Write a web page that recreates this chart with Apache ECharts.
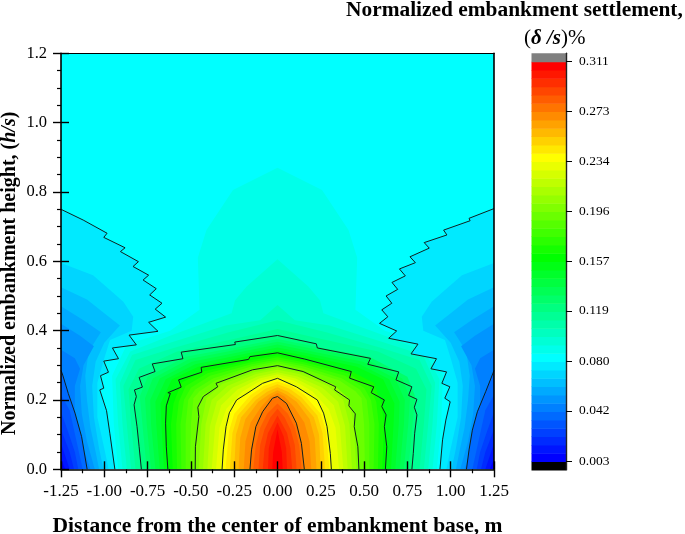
<!DOCTYPE html>
<html><head><meta charset="utf-8">
<style>html,body{margin:0;padding:0;background:#fff}#c{width:685px;height:534px}</style>
<script src="https://cdn.jsdelivr.net/npm/echarts@6/dist/echarts.min.js"></script>
</head><body><div id="c"></div>
<script>
// Colour scale
const legendTicks=[0.003,0.042,0.080,0.119,0.157,0.196,0.234,0.273,0.311];
const legendMin=0.003, legendMax=0.311, legendSegments=48;

// Black contour lines, [x, h/s]
const c042L=[[-1.25,.285],[-1.242,.275],[-1.208,.219],[-1.169,.162],[-1.131,.094],[-1.099,0]];
const c042R=[[1.25,.285],[1.24,.272],[1.202,.224],[1.154,.166],[1.125,.113],[1.106,.056],[1.091,0]];
const c080L=[[-1.25,.75],[-1.122,.719],[-1.116,.716],[-.984,.681],[-1.003,.669],[-.88,.639],[-.907,.628],[-.803,.599],[-.834,.585],[-.744,.56],[-.776,.546],[-.7,.521],[-.738,.503],[-.667,.479],[-.706,.462],[-.646,.439],[-.744,.424],[-.69,.398],[-.857,.387],[-.815,.359],[-.953,.35],[-.918,.319],[-1.003,.312],[-.976,.28],[-1.022,.27],[-1.003,.234],[-1.026,.229],[-.987,.169],[-.968,.104],[-.939,0]];
const c080R=[[1.25,.752],[1.106,.724],[1.112,.717],[.959,.69],[.978,.676],[.847,.654],[.876,.638],[.765,.613],[.796,.596],[.704,.578],[.738,.558],[.661,.539],[.694,.519],[.627,.5],[.66,.479],[.602,.46],[.637,.44],[.589,.421],[.688,.399],[.642,.378],[.811,.361],[.771,.333],[.918,.319],[.886,.29],[.976,.281],[.949,.248],[.995,.238],[.966,.205],[.997,.195],[.972,.142],[.953,.085],[.938,0]];
const c119=[[-.786,0],[-.799,.065],[-.811,.123],[-.828,.186],[-.815,.21],[-.826,.229],[-.78,.237],[-.799,.265],[-.707,.282],[-.723,.304],[-.546,.319],[-.556,.338],[-.243,.36],[-.247,.367],[0,.386],[.224,.362],[.23,.35],[.537,.32],[.521,.303],[.7,.281],[.684,.258],[.776,.238],[.757,.213],[.805,.202],[.79,.179],[.805,.157],[.792,.104],[.784,.046],[.776,0]];
const c157=[[-.633,0],[-.642,.065],[-.646,.133],[-.642,.183],[-.619,.219],[-.633,.221],[-.556,.237],[-.571,.258],[-.437,.28],[-.441,.294],[-.167,.317],[-.159,.325],[0,.336],[.157,.318],[.161,.313],[.426,.282],[.416,.263],[.556,.238],[.541,.221],[.617,.2],[.602,.181],[.627,.157],[.617,.123],[.631,.065],[.623,0]];
const c196=[[-.475,0],[-.474,.065],[-.454,.152],[-.46,.179],[-.428,.21],[-.439,.213],[-.345,.238],[-.355,.248],[-.144,.287],[0,.299],[.148,.282],[.153,.277],[.336,.238],[.33,.229],[.416,.2],[.412,.183],[.449,.16],[.443,.123],[.464,.065],[.47,0]];
const c234=[[-.32,0],[-.313,.056],[-.297,.123],[-.278,.163],[-.236,.2],[-.182,.217],[-.086,.248],[0,.2625],[.109,.238],[.23,.2],[.266,.162],[.286,.123],[.305,.046],[.311,0]];
const c273=[[-.159,0],[-.15,.056],[-.125,.123],[-.086,.166],[-.029,.205],[0,.21],[.052,.19],[.109,.133],[.138,.075],[.155,0]];

// Edges of the colour bands above the cyan plateau (left half, symmetric), by band number
const arch13=[[-.92,0],[-.945,.13],[-.955,.27],[-.87,.36],[-.62,.4],[-.45,.46],[-.46,.61],[-.41,.69],[-.257,.806],[0,.87]];
const arch14=[[-.895,0],[-.92,.13],[-.935,.26],[-.85,.34],[-.62,.385],[-.43,.42],[-.265,.45],[-.245,.488],[-.178,.527],[0,.606]];
const arch15=[[-.87,0],[-.895,.13],[-.91,.25],[-.84,.33],[-.62,.365],[-.3,.415],[-.1,.43],[0,.474]];
const arch16=[[-.845,0],[-.87,.13],[-.89,.24],[-.82,.315],[-.6,.35],[-.28,.395],[0,.43]];
const arch17=[[-.82,0],[-.845,.13],[-.86,.23],[-.8,.29],[-.58,.34],[-.26,.375],[0,.405]];
const arch19=[[-.755,0],[-.78,.13],[-.795,.21],[-.75,.267],[-.53,.325],[-.227,.353],[0,.376]];
const arch20=[[-.73,0],[-.755,.13],[-.765,.205],[-.72,.262],[-.51,.318],[-.213,.347],[0,.368]];
const arch21=[[-.705,0],[-.73,.13],[-.735,.2],[-.68,.262],[-.495,.31],[-.2,.34],[0,.36]];
const arch22=[[-.68,0],[-.7,.13],[-.705,.195],[-.645,.26],[-.475,.303],[-.187,.333],[0,.351]];
const arch23=[[-.655,0],[-.67,.13],[-.675,.19],[-.61,.26],[-.458,.296],[-.173,.327],[0,.343]];
const arch25=[[-.605,0],[-.615,.13],[-.6,.19],[-.555,.25],[-.425,.283],[-.157,.314],[0,.329]];
const arch26=[[-.58,0],[-.585,.13],[-.57,.195],[-.53,.24],[-.405,.277],[-.153,.309],[0,.323]];
const arch27=[[-.555,0],[-.56,.13],[-.54,.2],[-.5,.235],[-.39,.27],[-.15,.303],[0,.317]];
const arch28=[[-.53,0],[-.53,.13],[-.515,.2],[-.475,.23],[-.37,.263],[-.147,.297],[0,.312]];
const arch29=[[-.505,0],[-.5,.13],[-.485,.205],[-.45,.225],[-.355,.257],[-.143,.291],[0,.306]];
const arch31=[[-.455,0],[-.44,.13],[-.41,.205],[-.32,.246],[-.133,.28],[0,.293]];
const arch32=[[-.43,0],[-.415,.13],[-.38,.2],[-.29,.24],[-.125,.275],[0,.287]];
const arch33=[[-.405,0],[-.39,.125],[-.35,.195],[-.26,.235],[-.115,.268],[0,.28]];
const arch34=[[-.38,0],[-.36,.125],[-.325,.185],[-.23,.23],[-.105,.262],[0,.274]];
const arch35=[[-.355,0],[-.335,.12],[-.295,.175],[-.2,.225],[-.095,.256],[0,.267]];
const arch37=[[-.3,0],[-.28,.11],[-.25,.16],[-.155,.214],[-.08,.24],[0,.253]];
const arch38=[[-.275,0],[-.26,.105],[-.23,.155],[-.14,.207],[-.07,.232],[0,.245]];
const arch39=[[-.25,0],[-.24,.1],[-.21,.15],[-.125,.2],[-.06,.224],[0,.237]];
const arch40=[[-.225,0],[-.215,.09],[-.185,.145],[-.11,.195],[-.05,.216],[0,.228]];
const arch41=[[-.195,0],[-.185,.08],[-.155,.135],[-.095,.18],[-.04,.21],[0,.22]];
const arch43=[[-.14,0],[-.125,.07],[-.1,.12],[-.06,.16],[0,.19]];
const arch44=[[-.11,0],[-.1,.07],[-.075,.115],[-.04,.15],[0,.175]];
const arch45=[[-.085,0],[-.075,.06],[-.055,.105],[0,.155]];
const arch46=[[-.055,0],[-.05,.06],[-.035,.095],[0,.135]];
const arch47=[[-.03,0],[-.025,.05],[0,.115]];

// Edges of the colour bands in the lower corners (left half, symmetric)
const wedge10=[[-1.25,.595],[-1.065,.56],[-.967,.517],[-.89,.483],[-.833,.44],[-.842,.4],[-.967,.373],[-1,.32],[-1.04,.25],[-1.04,.15],[-1,.06],[-.975,0]];
const wedge9=[[-1.25,.525],[-1.1,.49],[-1,.45],[-.91,.415],[-1,.365],[-1.05,.31],[-1.07,.24],[-1.06,.15],[-1.03,.06],[-1.005,0]];
const wedge8=[[-1.25,.47],[-1.12,.43],[-1.02,.395],[-1.09,.34],[-1.11,.27],[-1.1,.2],[-1.08,.12],[-1.05,.05],[-1.03,0]];
const wedge7=[[-1.25,.42],[-1.14,.385],[-1.06,.355],[-1.12,.3],[-1.14,.24],[-1.13,.16],[-1.1,.08],[-1.055,0]];
const wedge6=[[-1.25,.345],[-1.17,.32],[-1.14,.29],[-1.17,.24],[-1.17,.17],[-1.14,.09],[-1.08,0]];
const wedge4=[[-1.25,.215],[-1.2,.17],[-1.16,.08],[-1.125,0]];
const wedge3=[[-1.25,.165],[-1.21,.11],[-1.17,.05],[-1.15,0]];
const wedge2=[[-1.25,.115],[-1.2,.05],[-1.175,0]];
const wedge1=[[-1.25,.075],[-1.2,0]];
const wedge0=[[-1.25,.03],[-1.225,0]];

const step=(legendMax-legendMin)/legendSegments;
const stops=[[0,[0,0,255]],[12,[0,255,255]],[24,[0,255,0]],[36,[255,255,0]],[47,[255,0,0]]];
function bandColor(k){
  for(let i=0;i<stops.length-1;i++){
    const a=stops[i],b=stops[i+1];
    if(k<=b[0]){const t=(k-a[0])/(b[0]-a[0]);
      return 'rgb('+a[1].map((v,j)=>Math.round(v+(b[1][j]-v)*t)).join(',')+')';}
  }
  return 'rgb(255,0,0)';
}
const mirror=h=>{const m=h.filter(p=>p[0]!==0).map(p=>[-p[0],p[1]]).reverse();return h.concat(m);};
const wedgeL=w=>[[-1.25,0]].concat(w);
const wedgeR=w=>[[1.25,0]].concat(w);
const flip=w=>w.map(p=>[-p[0],p[1]]);

const polys=[];
polys.push({k:12,pts:[[-1.25,0],[1.25,0],[1.25,1.2],[-1.25,1.2]]});
const highs={13:arch13,14:arch14,15:arch15,16:arch16,17:arch17,19:arch19,20:arch20,21:arch21,22:arch22,23:arch23,25:arch25,26:arch26,27:arch27,28:arch28,29:arch29,31:arch31,32:arch32,33:arch33,34:arch34,35:arch35,37:arch37,38:arch38,39:arch39,40:arch40,41:arch41,43:arch43,44:arch44,45:arch45,46:arch46,47:arch47};
const exact={18:c119,24:c157,30:c196,36:c234,42:c273};
for(let k=13;k<=47;k++){polys.push({k:k,pts:exact[k]||mirror(highs[k])});}
polys.push({k:11,pts:wedgeL(c080L)});polys.push({k:11,pts:wedgeR(c080R)});
const lows={10:wedge10,9:wedge9,8:wedge8,7:wedge7,6:wedge6,4:wedge4,3:wedge3,2:wedge2,1:wedge1,0:wedge0};
for(let k=10;k>=0;k--){
  if(k===5){polys.push({k:5,pts:wedgeL(c042L)});polys.push({k:5,pts:wedgeR(c042R)});}
  else{polys.push({k:k,pts:wedgeL(lows[k])});polys.push({k:k,pts:wedgeR(flip(lows[k]))});}
}

const contours=[c042L,c042R,c080L,c080R,c119,c157,c196,c234,c273];
const serif='"Liberation Serif","Times New Roman",serif';
const black='#000';

const series=[{
  type:'custom',xAxisIndex:0,yAxisIndex:0,z:1,silent:true,clip:true,animation:false,
  data:polys.map((p,i)=>[i]),
  encode:{x:[],y:[]},
  renderItem:(params,api)=>{
    const p=polys[api.value(0)];
    return {type:'polygon',shape:{points:p.pts.map(q=>api.coord(q))},
      style:{fill:bandColor(p.k),stroke:null}};
  }
}];
contours.forEach(c=>series.push({type:'line',xAxisIndex:0,yAxisIndex:0,z:3,silent:true,animation:false,
  data:c,showSymbol:false,symbol:'none',clip:true,lineStyle:{color:'#102020',width:1}}));

// colour bar: one entry per segment, plus grey (above) and black (below) caps
const barItems=[];
barItems.push({lo:legendMin-step,hi:legendMin,fill:'#000'});
for(let k=0;k<legendSegments;k++)barItems.push({lo:legendMin+k*step,hi:legendMin+(k+1)*step,fill:bandColor(k)});
barItems.push({lo:legendMax,hi:legendMax+step,fill:'#808080'});
series.push({type:'custom',xAxisIndex:4,yAxisIndex:4,z:1,silent:true,animation:false,
  data:barItems.map((b,i)=>[i]),encode:{x:[],y:[]},
  renderItem:(params,api)=>{
    const b=barItems[api.value(0)];
    const a=api.coord([0,b.hi]),c=api.coord([1,b.lo]);
    return {type:'rect',shape:{x:a[0],y:a[1],width:c[0]-a[0],height:c[1]-a[1]+0.5},style:{fill:b.fill}};
  }});

const main={left:61,top:53.3,width:433,height:416};
const frameAxis={min:0,max:1,show:true,axisLine:{show:true,lineStyle:{color:black,width:1}},axisTick:{show:false},axisLabel:{show:false},splitLine:{show:false},z:5};
const option={
  backgroundColor:'#fff',animation:false,
  title:[
    {text:'Normalized embankment settlement,',left:346,top:0,padding:0,textStyle:{fontFamily:serif,fontWeight:'bold',fontSize:21.4,color:black}},
    {text:'({i|δ /s})%',left:524,top:28,padding:0,textStyle:{fontFamily:serif,fontWeight:'normal',fontSize:21,color:black,
      rich:{i:{fontFamily:serif,fontWeight:'bold',fontStyle:'italic',fontSize:21,color:black}}}}
  ],
  grid:[main,main,main,main,{left:531.5,top:53.3,width:34.5,height:416.6}].map(g=>Object.assign({containLabel:false,show:false,outerBoundsMode:'none'},g)),
  xAxis:[
    {gridIndex:0,type:'value',position:'bottom',min:-1.25,max:1.25,interval:.25,z:5,
     axisLine:{show:true,onZero:false,lineStyle:{color:black,width:1.6}},
     axisTick:{show:true,length:8,lineStyle:{color:black,width:1.4}},
     minorTick:{show:true,splitNumber:2,length:4,lineStyle:{color:black,width:1.2}},
     splitLine:{show:false},minorSplitLine:{show:false},
     axisLabel:{margin:14,fontFamily:serif,fontSize:17,color:black,formatter:v=>v.toFixed(2),showMinLabel:true,showMaxLabel:true,hideOverlap:false},
     name:'Distance from the center of embankment base, m',nameLocation:'middle',nameGap:46,nameMoveOverlap:false,
     nameTextStyle:{fontFamily:serif,fontWeight:'bold',fontSize:21.5,color:black}},
    {gridIndex:1,type:'value',position:'bottom',min:-1.25,max:1.25,interval:.25,z:5,
     axisLine:{show:false,onZero:false},axisTick:{show:true,inside:true,length:8,lineStyle:{color:black,width:1.4}},
     axisLabel:{show:false},splitLine:{show:false}},
    Object.assign({gridIndex:2,type:'value',position:'top'},frameAxis,{min:-1.25,max:1.25,axisLine:{show:true,onZero:false,lineStyle:{color:black,width:1.2}}}),
    Object.assign({gridIndex:3,type:'value',position:'bottom'},frameAxis,{min:-1.25,max:1.25,axisLine:{show:false}}),
    {gridIndex:4,type:'value',min:0,max:1,show:false}
  ],
  yAxis:[
    {gridIndex:0,type:'value',position:'left',min:0,max:1.2,interval:.2,z:5,
     axisLine:{show:true,onZero:false,lineStyle:{color:black,width:1.6}},
     axisTick:{show:true,length:8,lineStyle:{color:black,width:1.4}},
     minorTick:{show:true,splitNumber:4,length:4,lineStyle:{color:black,width:1.2}},
     splitLine:{show:false},minorSplitLine:{show:false},
     axisLabel:{margin:14,fontFamily:serif,fontSize:16.5,color:black,formatter:v=>v.toFixed(1)},
     name:'Normalized embankment height, ({i|h/s})',nameLocation:'middle',nameGap:41,nameMoveOverlap:false,
     nameTextStyle:{fontFamily:serif,fontWeight:'bold',fontSize:20,color:black,padding:[0,24,0,0],
       rich:{i:{fontFamily:serif,fontWeight:'bold',fontStyle:'italic',fontSize:20,color:black}}}},
    {gridIndex:1,type:'value',position:'left',min:0,max:1.2,interval:.2,z:5,
     axisLine:{show:false,onZero:false},axisTick:{show:true,inside:true,length:8,lineStyle:{color:black,width:1.4}},
     axisLabel:{show:false},splitLine:{show:false}},
    Object.assign({gridIndex:2,type:'value',position:'right'},frameAxis,{min:0,max:1.2,axisLine:{show:true,onZero:false,lineStyle:{color:black,width:1.6}}}),
    Object.assign({gridIndex:3,type:'value',position:'left'},frameAxis,{min:0,max:1.2,axisLine:{show:false}}),
    {gridIndex:4,type:'value',position:'right',min:legendMin-step,max:legendMax+step,z:5,
     axisLine:{show:true,onZero:false,lineStyle:{color:'#222',width:1.4}},
     axisTick:{show:true,length:6,customValues:legendTicks,lineStyle:{color:black,width:1}},
     axisLabel:{margin:13,fontFamily:serif,fontSize:13.5,color:black,customValues:legendTicks,formatter:v=>v.toFixed(3),showMinLabel:true,showMaxLabel:true},
     splitLine:{show:false}}
  ],
  series:series
};
const chart=echarts.init(document.getElementById('c'),null,{renderer:'canvas'});
chart.setOption(option);
</script></body></html>
